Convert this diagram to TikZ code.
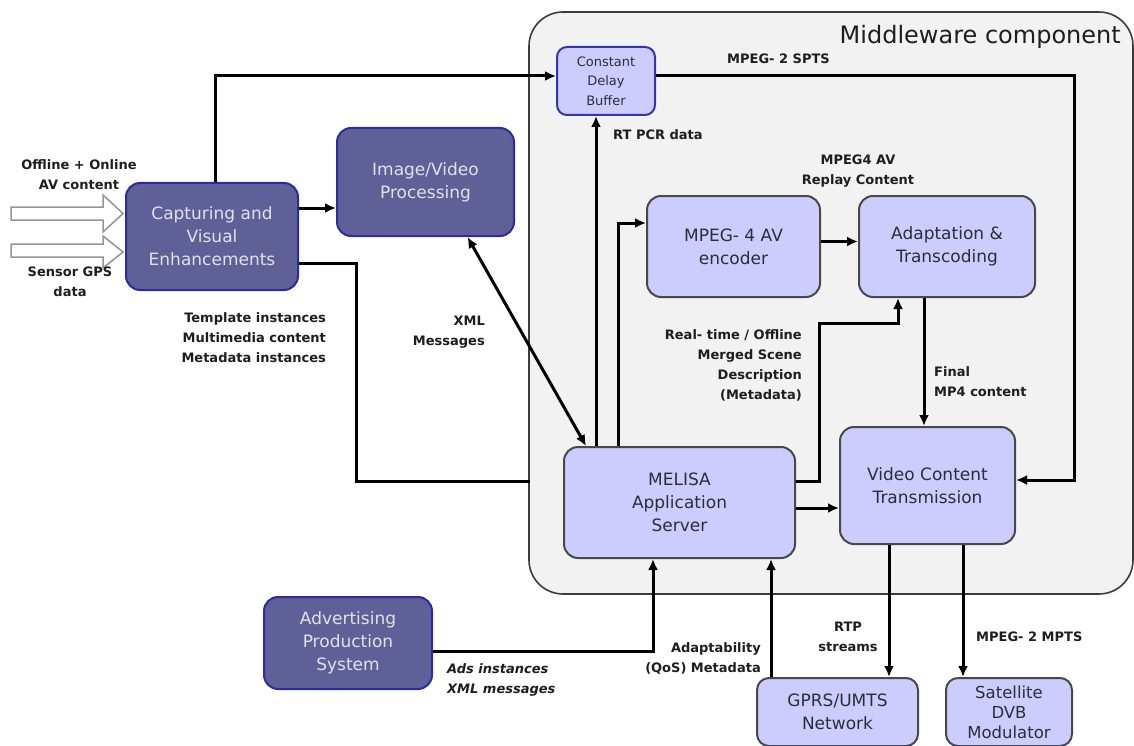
\documentclass[tikz,border=0pt]{standalone}
\usepackage{fontspec}
\setmainfont{DejaVu Sans}
\usetikzlibrary{arrows.meta}

\definecolor{dkfill}{RGB}{96,96,152}
\definecolor{dkborder}{RGB}{44,44,160}
\definecolor{dktext}{RGB}{226,226,230}
\definecolor{ltfill}{RGB}{204,204,255}
\definecolor{ltborder}{RGB}{72,72,72}
\definecolor{bufborder}{RGB}{52,52,176}
\definecolor{bxtext}{RGB}{45,45,55}
\definecolor{mwfill}{RGB}{242,242,242}
\definecolor{mwborder}{RGB}{60,60,60}
\definecolor{lbltext}{RGB}{30,30,30}
\definecolor{bigarrow}{RGB}{150,150,150}

\begin{document}
\begin{tikzpicture}[x=1pt,y=-1pt,
  boxfont/.style={font=\fontsize{17}{23}\selectfont},
  darkbox/.style={boxfont,rounded corners=14pt,fill=dkfill,draw=dkborder,line width=2pt,
    text=dktext,align=center,inner sep=0pt},
  litebox/.style={boxfont,rounded corners=14pt,fill=ltfill,draw=ltborder,line width=2pt,
    text=bxtext,align=center,inner sep=0pt},
  lbl/.style={font=\bfseries\fontsize{13}{20}\selectfont,text=lbltext,inner sep=0pt},
  wire/.style={line width=3pt,black},
  arr/.style={wire,-{Latex[length=11pt,width=10pt]}},
  arrboth/.style={wire,{Latex[length=11pt,width=10pt]}-{Latex[length=11pt,width=10pt]}},
  blockarrow/.style={fill=white,draw=bigarrow,line width=1.5pt,line join=miter}
]
\useasboundingbox (0,0) rectangle (1134,746);
\fill[white] (0,0) rectangle (1134,746);

% middleware frame and its title
\draw[fill=mwfill,draw=mwborder,line width=1.6pt,rounded corners=34pt]
  (529,12) rectangle (1133,594);
\node[anchor=east,font=\fontsize{24}{27}\selectfont,text=lbltext,inner sep=0pt]
  (mwtitle) at (1121,37) {Middleware component};

% hollow input arrows
\draw[blockarrow] (11,207) -- (103,207) -- (103,195) -- (123,213.5) -- (103,232)
  -- (103,220) -- (11,220) -- cycle;
\draw[blockarrow] (11,244) -- (103,244) -- (103,236) -- (123,252) -- (103,268)
  -- (103,257) -- (11,257) -- cycle;

% blocks outside the middleware
\node[darkbox,minimum width=172pt,minimum height=107pt] (cap) at (212,236.5)
  {Capturing and\\Visual\\Enhancements};
\node[darkbox,minimum width=177pt,minimum height=108pt] (ivp) at (425.5,182)
  {Image/Video\\Processing};
\node[darkbox,minimum width=168pt,minimum height=92pt] (ads) at (348,643)
  {Advertising\\Production\\System};

% blocks of the middleware
\node[litebox,minimum width=98pt,minimum height=68pt,rounded corners=10pt,draw=bufborder,
  font=\fontsize{13}{19.5}\selectfont] (buf) at (606,81) {Constant\\Delay\\Buffer};
\node[litebox,minimum width=173pt,minimum height=101pt] (enc) at (733.5,246.5)
  {MPEG- 4 AV\\encoder};
\node[litebox,minimum width=176pt,minimum height=101pt] (ada) at (947,246.5)
  {Adaptation \&\\Transcoding};
\node[litebox,minimum width=231pt,minimum height=111pt] (mel) at (679.5,502.5)
  {MELISA\\Application\\Server};
\node[litebox,minimum width=175pt,minimum height=117pt] (vct) at (927.5,485.5)
  {Video Content\\Transmission};

% output networks
\node[litebox,minimum width=161pt,minimum height=68pt,rounded corners=12pt] (gprs) at (837.5,712)
  {GPRS/UMTS\\Network};
\node[litebox,minimum width=126pt,minimum height=68pt,rounded corners=12pt,
  font=\fontsize{16.5}{20}\selectfont] (sat) at (1009,712) {Satellite\\DVB\\Modulator};

\coordinate (mwin) at (530,481);

% connectors
\draw[arr] ([xshift=3pt]cap.north) |- ([yshift=5pt]buf.west);
\draw[arr] ([yshift=28.5pt]cap.east) -- ([yshift=-26pt]ivp.west);
\draw[wire] ([yshift=-26.5pt]cap.east) -- ++(57,0) |- (mwin);
\draw[arrboth] ([xshift=42pt]ivp.south) -- ([xshift=23pt]mel.north west);
\draw[arr] ([xshift=-83.5pt]mel.north) -- ([xshift=-10pt]buf.south);
\draw[arr] ([xshift=-61.5pt]mel.north) |- ([yshift=23.5pt]enc.west);
\draw[arr] ([yshift=21.5pt]mel.east) -- ++(23,0) -- ++(0,-158) -| ([xshift=-49pt]ada.south);
\draw[arr] ([yshift=5pt]enc.east) -- ([yshift=5pt]ada.west);
\draw[arr] ([xshift=-23pt]ada.south) -- ([xshift=-3.5pt]vct.north);
\draw[arr] ([yshift=5pt]buf.east) -- ++(418,0) |- ([yshift=5.5pt]vct.east);
\draw[arr] ([yshift=-5.5pt]mel.east) -- ([yshift=-22.5pt]vct.west);
\draw[arr] ([xshift=-38.5pt]vct.south) -- ([xshift=51.5pt]gprs.north);
\draw[arr] ([xshift=35.5pt]vct.south) -- ([xshift=-46pt]sat.north);
\draw[arr] ([yshift=-8pt]ads.east) -| ([xshift=-26.5pt]mel.south);
\draw[arr] ([xshift=-66.5pt]gprs.north) -- ([xshift=91.5pt]mel.south);

% labels
\node[lbl,align=center] (offl) at (79,175) {Offline + Online\\AV content};
\node[lbl,align=center] (sgps) at (70,282) {Sensor GPS\\data};
\node[lbl,align=right,anchor=east] (tmpl) at (326,338)
  {Template instances\\Multimedia content\\Metadata instances};
\node[lbl,align=right,anchor=east] (xmlm) at (485,332) {XML\\Messages};
\node[lbl,anchor=west] (rtpcr) at (613,135) {RT PCR data};
\node[lbl,anchor=west] (spts) at (727,59) {MPEG- 2 SPTS};
\node[lbl,align=center] (replay) at (858,171) {MPEG4 AV\\Replay Content};
\node[lbl,align=right,anchor=east] (merged) at (802,365)
  {Real- time / Offline\\Merged Scene\\Description\\(Metadata)};
\node[lbl,align=left,anchor=west] (final) at (934,382) {Final\\MP4 content};
\node[lbl,align=center] (rtp) at (848,637) {RTP\\streams};
\node[lbl,anchor=west] (mpts) at (976,637) {MPEG- 2 MPTS};
\node[lbl,align=left,anchor=west,font=\bfseries\itshape\fontsize{13}{20}\selectfont] (adsl)
  at (447,680) {Ads instances\\XML messages};
\node[lbl,align=right,anchor=east] (qos) at (761,659) {Adaptability\\(QoS) Metadata};
\end{tikzpicture}
\end{document}
